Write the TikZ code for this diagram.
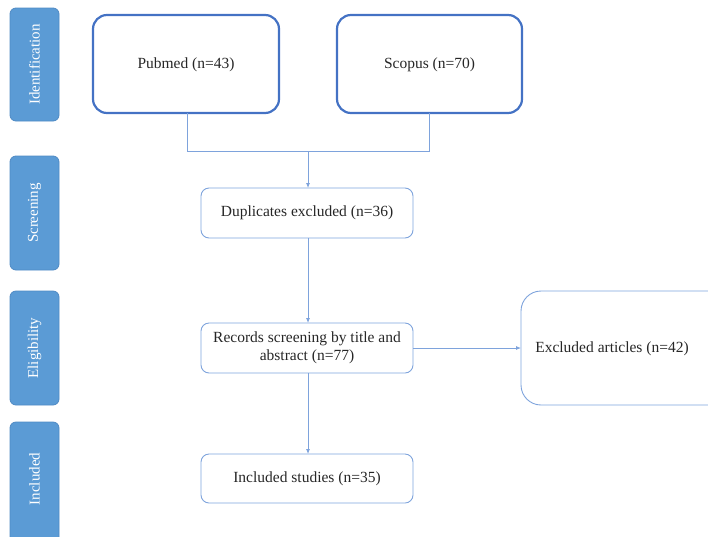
\documentclass[tikz,border=0pt]{standalone}
\usepackage{fontspec}
\setmainfont{Liberation Serif}
\usetikzlibrary{arrows.meta}
\definecolor{tabfill}{HTML}{5B9BD5}
\definecolor{tabedge}{HTML}{4F8AC4}
\definecolor{dark}{HTML}{4472C4}
\definecolor{light}{HTML}{7EA3DC}
\tikzset{
  x=1pt, y=-1pt,
  tab/.style={draw=tabedge, fill=tabfill, rounded corners=6pt, line width=0.8pt},
  tabtext/.style={text=white, font=\fontsize{15}{17}\selectfont, rotate=90},
  bigbox/.style={draw=dark, line width=2.2pt, rounded corners=14pt},
  smallbox/.style={draw=light, line width=0.9pt, rounded corners=8pt},
  txt/.style={font=\fontsize{15.5}{18}\selectfont, align=center, text=black!85},
  conn/.style={draw=light, line width=0.8pt},
  arr/.style={conn, -{Latex[length=5pt,width=4pt]}},
}
\begin{document}
\begin{tikzpicture}
\useasboundingbox (0,0) rectangle (708,536);
% side tabs
\draw[tab] (10,8) rectangle (59,121);
\node[tabtext] (tid) at (34.5,64.5) {Identification};
\draw[tab] (10,156) rectangle (59,270);
\node[tabtext] (tsc) at (34.5,213) {Screening};
\draw[tab] (10,291) rectangle (59,405);
\node[tabtext] (tel) at (34.5,348) {Eligibility};
\draw[tab] (10,422) rectangle (59,545);
\node[tabtext] (tin) at (34.5,479) {Included};
% boxes
\draw[bigbox] (93,15) rectangle (279,113);
\node[txt] (pub) at (186,65) {Pubmed (n=43)};
\coordinate (pubb) at (187,113);
\draw[bigbox] (337,15) rectangle (522,113);
\node[txt] (sco) at (429.5,65) {Scopus (n=70)};
\coordinate (scob) at (429,113);
\draw[smallbox] (201,188) rectangle (413,238);
\node[txt] (dup) at (307,213) {Duplicates excluded (n=36)};
\coordinate (dupt) at (308,188);
\coordinate (dupb) at (308,238);
\draw[smallbox] (201,323) rectangle (413,373);
\node[txt] (rec) at (307,348) {Records screening by title and\\abstract (n=77)};
\coordinate (rect) at (308,323);
\coordinate (recb) at (308,373);
\coordinate (recr) at (413,348);
\draw[smallbox, rounded corners=20pt] (521,291) rectangle (730,405);
\node[txt] (exc) at (612,349) {Excluded articles (n=42)};
\coordinate (excl) at (521,348);
\draw[smallbox] (201,454) rectangle (413,503);
\node[txt] (inc) at (307,479) {Included studies (n=35)};
\coordinate (inct) at (308,454);
% connectors
\coordinate (mid) at (308,151);
\draw[conn] (pubb) -- (187,151) -- (429,151) -- (scob);
\draw[arr] (mid) -- (dupt);
\draw[arr] (dupb) -- (rect);
\draw[arr] (recr) -- (excl);
\draw[arr] (recb) -- (inct);
\end{tikzpicture}
\end{document}
